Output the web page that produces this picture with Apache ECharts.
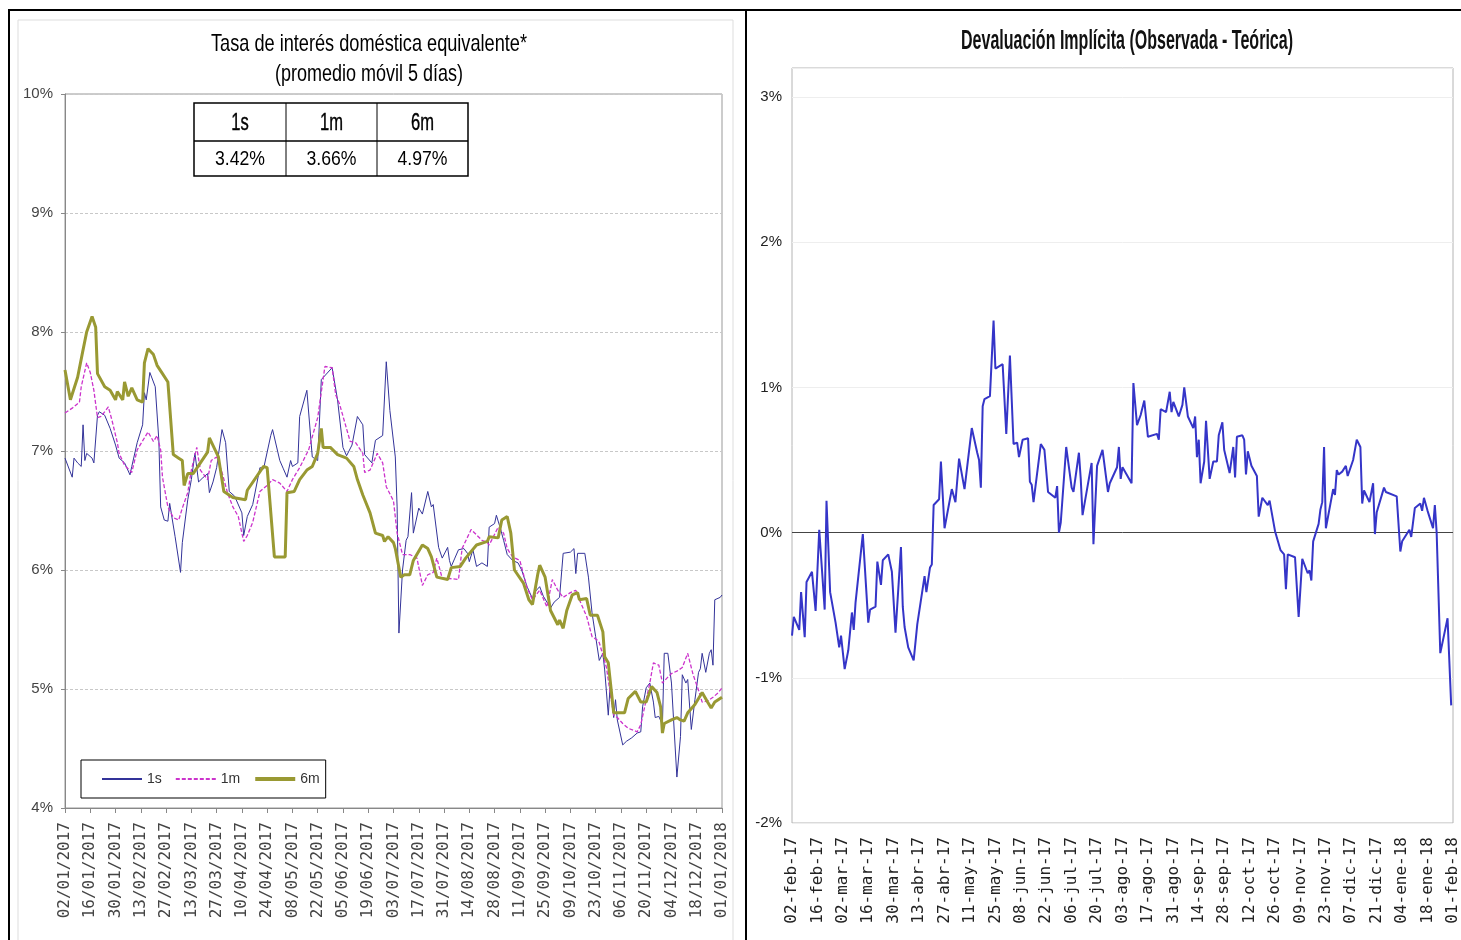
<!DOCTYPE html>
<html><head><meta charset="utf-8">
<script src="https://cdn.jsdelivr.net/npm/echarts@6/dist/echarts.min.js"></script>
<style>html,body{margin:0;padding:0;background:#fff}#c{width:1461px;height:940px}</style>
</head><body><div id="c"></div>
<script>
// ---------- Left chart: Tasa de interés doméstica equivalente ----------
// x values are days since 02/01/2017
const rateTickLabels = ['02/01/2017','16/01/2017','30/01/2017','13/02/2017','27/02/2017','13/03/2017','27/03/2017','10/04/2017','24/04/2017','08/05/2017','22/05/2017','05/06/2017','19/06/2017','03/07/2017','17/07/2017','31/07/2017','14/08/2017','28/08/2017','11/09/2017','25/09/2017','09/10/2017','23/10/2017','06/11/2017','20/11/2017','04/12/2017','18/12/2017','01/01/2018'];
const rateYLabels = ['4%','5%','6%','7%','8%','9%','10%'];

const rateDays1s = [0,4,5,7,9,10,11,12,15,16,18,19,22,25,28,30,33,36,37,40,43,44,45,47,50,52,53,55,57,58,61,64,65,68,70,72,74,76,79,80,82,84,87,89,91,94,98,99,101,104,108,110,114,115,119,121,123,125,126,129,130,134,137,140,142,148,149,151,154,156,159,162,165,166,170,172,176,178,180,183,184,185,187,189,190,192,193,196,198,201,203,204,207,209,212,213,214,216,218,221,223,224,226,227,228,231,234,235,238,239,240,241,243,245,248,251,253,256,259,260,263,265,269,271,274,276,280,282,283,284,288,290,292,294,296,298,299,301,302,304,305,306,309,311,314,317,319,320,322,324,326,327,329,331,332,334,336,339,341,342,344,345,347,349,351,352,353,355,357,358,359,360,363,364];
const rate1s = [6.94,6.78,6.94,6.90,6.87,7.22,6.92,6.98,6.94,6.90,7.30,7.33,7.30,7.19,7.05,6.94,6.90,6.80,6.87,7.07,7.22,7.49,7.43,7.66,7.54,7.09,6.53,6.42,6.41,6.56,6.28,5.98,6.23,6.59,6.76,6.98,6.74,6.77,6.81,6.65,6.74,6.86,7.18,7.07,6.66,6.62,6.48,6.29,6.45,6.55,6.86,6.85,7.13,7.18,6.92,6.85,6.78,6.92,6.87,6.90,7.29,7.51,6.95,6.92,7.60,7.70,7.70,7.43,7.03,6.96,7.05,7.29,7.22,6.97,6.90,7.09,7.13,7.75,7.34,6.95,6.53,5.47,6.00,6.25,6.28,6.65,6.31,6.52,6.47,6.66,6.53,6.55,6.19,6.10,6.19,6.08,6.03,6.10,6.17,6.18,6.14,6.07,6.17,6.18,6.03,6.06,6.03,6.36,6.39,6.46,6.47,6.36,6.25,6.13,6.08,6.06,6.00,5.86,5.76,5.81,5.86,5.78,5.68,5.73,5.77,6.14,6.15,6.18,5.97,6.14,6.14,5.94,5.64,5.44,5.24,5.30,5.16,4.78,5.02,4.76,4.91,4.74,4.53,4.56,4.59,4.63,4.64,4.85,5.01,5.05,4.89,4.76,4.77,4.70,5.30,5.30,5.05,4.26,4.60,5.12,5.05,5.08,4.66,4.91,5.14,5.17,5.30,5.14,5.30,5.33,5.20,5.75,5.77,5.79];

const rateDays1m = [0,4,8,9,12,14,16,18,20,24,26,29,30,33,37,40,46,49,51,53,54,57,60,63,65,68,70,73,75,79,81,84,87,90,93,96,99,101,104,108,112,115,119,123,126,130,135,137,140,144,148,150,152,155,158,161,165,166,169,173,176,178,182,184,187,191,195,198,201,204,206,209,212,218,220,225,231,234,235,240,243,245,248,252,256,259,263,267,270,273,276,280,283,285,289,292,295,296,300,302,304,306,309,312,317,319,321,324,326,329,331,334,336,339,342,345,348,351,353,356,359,362,364];
const rate1m = [7.32,7.36,7.41,7.54,7.74,7.66,7.51,7.28,7.29,7.37,7.26,7.07,6.98,6.88,6.82,7.01,7.16,7.08,7.13,7.01,6.78,6.53,6.44,6.42,6.52,6.65,6.84,7.03,6.84,6.76,6.92,6.95,6.82,6.65,6.53,6.45,6.24,6.29,6.40,6.66,6.71,6.76,6.73,6.66,6.76,6.86,7.01,7.12,7.28,7.71,7.70,7.47,7.40,7.24,7.08,7.07,6.98,6.82,6.84,6.98,6.90,6.70,6.58,6.31,6.13,6.13,6.10,5.87,5.96,5.98,6.10,5.93,5.93,5.92,6.18,6.34,6.25,6.23,6.21,6.36,6.31,6.18,6.11,6.08,5.85,5.75,5.83,5.69,5.92,5.83,5.77,5.81,5.83,5.75,5.61,5.44,5.41,5.39,5.18,4.97,4.78,4.76,4.71,4.67,4.64,4.70,4.84,5.05,5.22,5.20,5.05,5.10,5.13,5.15,5.18,5.30,5.12,4.99,4.89,4.90,4.93,4.97,5.01];

const rateDays6m = [0,3,7,10,12,15,17,18,22,25,28,29,32,33,35,37,40,43,44,46,49,51,54,57,60,63,65,66,68,71,75,79,80,85,88,93,100,101,110,112,116,122,123,127,130,134,137,140,142,143,147,151,156,160,162,165,169,172,176,177,179,182,183,186,188,191,193,198,201,203,206,212,214,219,222,228,234,235,240,242,245,247,249,254,257,259,262,263,266,269,273,274,276,278,281,284,285,289,291,295,298,299,301,304,310,312,316,319,322,325,328,330,331,332,336,339,341,343,345,349,353,356,358,360,364];
const rate6m = [7.68,7.43,7.62,7.85,8.00,8.13,8.04,7.65,7.54,7.51,7.43,7.50,7.43,7.58,7.46,7.53,7.43,7.41,7.74,7.86,7.81,7.72,7.65,7.58,6.97,6.94,6.92,6.71,6.81,6.81,6.90,6.99,7.11,6.95,6.66,6.61,6.59,6.67,6.87,6.86,6.11,6.11,6.65,6.66,6.76,6.84,6.87,6.98,7.19,7.03,7.03,6.97,6.94,6.87,6.76,6.63,6.48,6.31,6.29,6.24,6.28,6.23,6.18,5.94,5.96,5.96,6.08,6.21,6.18,6.11,5.94,5.92,6.02,6.03,6.10,6.21,6.24,6.28,6.27,6.42,6.45,6.31,6.00,5.89,5.75,5.71,5.97,6.04,5.94,5.66,5.54,5.58,5.51,5.66,5.79,5.81,5.75,5.76,5.62,5.62,5.48,5.27,5.22,4.80,4.80,4.92,4.98,4.89,4.89,5.02,4.97,4.85,4.63,4.71,4.74,4.76,4.74,4.73,4.80,4.87,4.97,4.89,4.84,4.89,4.93];

const tableHeaders = ['1s','1m','6m'];
const tableValues = ['3.42%','3.66%','4.97%'];

// ---------- Right chart: Devaluación Implícita ----------
// x values are days since 02-feb-17
const devalTickLabels = ['02-feb-17','16-feb-17','02-mar-17','16-mar-17','30-mar-17','13-abr-17','27-abr-17','11-may-17','25-may-17','08-jun-17','22-jun-17','06-jul-17','20-jul-17','03-ago-17','17-ago-17','31-ago-17','14-sep-17','28-sep-17','12-oct-17','26-oct-17','09-nov-17','23-nov-17','07-dic-17','21-dic-17','04-ene-18','18-ene-18','01-feb-18'];
const devalYLabels = ['-2%','-1%','0%','1%','2%','3%'];
const devalDays = [0,1,4,5,7,8,11,13,15,18,19,21,22,24,26,27,29,31,33,34,35,36,39,40,42,43,46,47,49,50,53,55,56,57,60,61,62,63,64,67,69,73,74,76,77,78,81,82,84,88,90,92,95,99,102,103,104,105,106,109,111,112,116,118,120,122,124,125,127,130,131,132,133,137,139,141,145,146,147,148,151,154,155,158,159,160,165,166,168,171,174,175,179,180,181,182,187,188,190,192,194,196,201,202,203,206,208,209,210,213,215,216,218,221,222,223,224,225,227,228,230,232,234,235,237,238,241,243,244,245,248,249,250,251,253,256,257,259,262,263,266,269,271,272,273,277,279,281,284,285,286,287,290,291,292,293,294,298,299,300,301,303,305,306,309,311,313,314,315,318,320,321,322,326,327,333,335,336,340,341,343,346,347,348,350,353,354,355,357,361,363];
const deval = [-0.71,-0.58,-0.67,-0.41,-0.72,-0.34,-0.27,-0.54,0.02,-0.53,0.22,-0.41,-0.41,-0.62,-0.79,-0.71,-0.94,-0.81,-0.55,-0.67,-0.48,-0.47,-0.01,-0.01,-0.62,-0.53,-0.51,-0.20,-0.36,-0.19,-0.15,-0.27,-0.27,-0.69,-0.10,-0.51,-0.65,-0.64,-0.79,-0.88,-0.63,-0.30,-0.41,-0.24,-0.22,0.19,0.23,0.49,0.03,0.30,0.21,0.51,0.30,0.72,0.55,0.50,0.31,0.87,0.92,0.94,1.46,1.13,1.16,0.68,1.22,0.61,0.62,0.52,0.64,0.65,0.35,0.33,0.21,0.61,0.57,0.28,0.24,0.32,0.00,0.07,0.59,0.31,0.28,0.55,0.37,0.12,0.48,-0.08,0.46,0.57,0.28,0.34,0.45,0.59,0.37,0.45,0.34,1.03,0.74,0.81,0.91,0.66,0.68,0.64,0.85,0.83,0.97,0.83,0.90,0.80,0.88,1.00,0.80,0.72,0.80,0.52,0.64,0.34,0.49,0.77,0.37,0.49,0.49,0.67,0.76,0.57,0.41,0.59,0.38,0.66,0.67,0.64,0.40,0.56,0.46,0.39,0.11,0.24,0.19,0.22,0.01,-0.12,-0.15,-0.39,-0.15,-0.17,-0.58,-0.18,-0.28,-0.26,-0.33,-0.06,0.06,0.16,0.21,0.59,0.03,0.30,0.26,0.43,0.40,0.42,0.46,0.39,0.50,0.64,0.59,0.20,0.29,0.21,0.34,-0.01,0.14,0.31,0.28,0.25,-0.13,-0.06,0.02,-0.03,0.17,0.20,0.15,0.24,0.15,0.03,0.19,0.00,-0.83,-0.59,-1.19];

// ---------- build ----------
const SANS = "'Liberation Sans','Arial',sans-serif";
const MONO = "'DejaVu Sans Mono',monospace";
const pair = (d, v) => d.map((x, i) => [x, v[i]]);

// condensed text: scale a text horizontally so it takes the wanted width
const mctx = document.createElement('canvas').getContext('2d');
function fitScale(text, font, target) { mctx.font = font; return target / mctx.measureText(text).width; }
function condensedText(text, x, y, font, width, fill, z) {
  return {type: 'text', z: z || 50, x: x, y: y, scaleX: fitScale(text, font, width), scaleY: 1,
    style: {text: text, align: 'center', verticalAlign: 'middle', font: font, fill: fill || '#000'}};
}

const chart = echarts.init(document.getElementById('c'), null, {renderer: 'canvas'});

// table layout
const tX = [194, 286, 377, 468], tY = [103, 141, 176];
const headFont = '24px ' + SANS, valFont = '21px ' + SANS;
const headScale = fitScale('6m', headFont, 23), valScale = fitScale('3.42%', valFont, 50);
const tableGraphics = [
  {type: 'rect', z: 100, shape: {x: tX[0], y: tY[0], width: tX[3] - tX[0], height: tY[2] - tY[0]}, style: {fill: '#fff', stroke: '#000', lineWidth: 1.5}},
  {type: 'line', z: 101, shape: {x1: tX[0], y1: tY[1], x2: tX[3], y2: tY[1]}, style: {stroke: '#000', lineWidth: 1.5}},
  {type: 'line', z: 101, shape: {x1: tX[1], y1: tY[0], x2: tX[1], y2: tY[2]}, style: {stroke: '#000', lineWidth: 1}},
  {type: 'line', z: 101, shape: {x1: tX[2], y1: tY[0], x2: tX[2], y2: tY[2]}, style: {stroke: '#000', lineWidth: 1}}
];
tableHeaders.forEach((h, i) => {
  tableGraphics.push({type: 'text', z: 102, x: (tX[i] + tX[i + 1]) / 2, y: (tY[0] + tY[1]) / 2 + 1, scaleX: headScale,
    style: {text: h, align: 'center', verticalAlign: 'middle', font: headFont, fill: '#000', stroke: '#000', lineWidth: 0.4}});
  tableGraphics.push({type: 'text', z: 102, x: (tX[i] + tX[i + 1]) / 2, y: (tY[1] + tY[2]) / 2 + 1, scaleX: valScale,
    style: {text: tableValues[i], align: 'center', verticalAlign: 'middle', font: valFont, fill: '#000'}});
});

const option = {
  animation: false,
  backgroundColor: '#fff',
  graphic: [
    {type: 'rect', z: 0, shape: {x: 18, y: 20, width: 715, height: 940}, style: {fill: null, stroke: '#dddddd', lineWidth: 1}},
    {type: 'line', z: 200, shape: {x1: 8, y1: 10, x2: 1461, y2: 10}, style: {stroke: '#000', lineWidth: 2}},
    {type: 'line', z: 200, shape: {x1: 9, y1: 10, x2: 9, y2: 940}, style: {stroke: '#000', lineWidth: 2}},
    {type: 'line', z: 200, shape: {x1: 746, y1: 10, x2: 746, y2: 940}, style: {stroke: '#000', lineWidth: 2}},
    condensedText('Tasa de interés doméstica equivalente*', 369, 44, '24px ' + SANS, 316),
    condensedText('(promedio móvil 5 días)', 369, 74, '24px ' + SANS, 188),
    condensedText('Devaluación Implícita (Observada - Teórica)', 1127, 41, 'bold 28px ' + SANS, 332, '#111')
  ].concat(tableGraphics),
  legend: {
    data: [{name: '1s'}, {name: '1m'}, {name: '6m', lineStyle: {width: 4}}],
    left: 81, top: 760, orient: 'horizontal',
    padding: [12, 6, 12, 20], itemGap: 13, itemWidth: 40, itemHeight: 14,
    borderColor: '#000', borderWidth: 1, backgroundColor: '#fff',
    itemStyle: {opacity: 0, color: 'rgba(0,0,0,0)', borderWidth: 0},
    textStyle: {fontFamily: SANS, fontSize: 14, color: '#333'}
  },
  grid: [
    {left: 65, top: 94, width: 657, height: 714, show: true, borderColor: '#999', borderWidth: 1, backgroundColor: 'transparent'},
    {left: 792, top: 68, width: 664, height: 755, show: true, borderColor: '#b4b4b4', borderWidth: 1, backgroundColor: 'transparent'}
  ],
  xAxis: [
    {gridIndex: 0, type: 'value', min: 0, max: 364, interval: 14,
      axisLine: {show: true, onZero: false, lineStyle: {color: '#888'}},
      axisTick: {show: true, length: 5, lineStyle: {color: '#888'}},
      splitLine: {show: false},
      axisLabel: {rotate: 90, margin: 14, formatter: v => rateTickLabels[Math.round(v / 14)], fontFamily: MONO, fontSize: 16, color: '#444'}},
    {gridIndex: 1, type: 'value', min: 0, max: 364, interval: 14,
      axisLine: {show: false}, axisTick: {show: false}, splitLine: {show: false},
      axisLabel: {rotate: 90, margin: 14, formatter: v => devalTickLabels[Math.round(v / 14)], fontFamily: MONO, fontSize: 16, color: '#222'}}
  ],
  yAxis: [
    {gridIndex: 0, type: 'value', min: 4, max: 10, interval: 1,
      axisLine: {show: true, lineStyle: {color: '#888'}},
      axisTick: {show: true, length: 4, lineStyle: {color: '#888'}},
      splitLine: {show: true, lineStyle: {color: '#c8c8c8', type: [3, 2]}},
      axisLabel: {margin: 12, formatter: v => rateYLabels[Math.round(v - 4)], fontFamily: SANS, fontSize: 15, color: '#444'}},
    {gridIndex: 1, type: 'value', min: -2, max: 3.2, interval: 1,
      axisLine: {show: false}, axisTick: {show: false},
      splitLine: {show: true, lineStyle: {color: '#eeeeee'}},
      axisLabel: {margin: 10, showMaxLabel: false, formatter: v => devalYLabels[Math.round(v + 2)] || '', fontFamily: SANS, fontSize: 15, color: '#222'}}
  ],
  series: [
    {name: '1s', type: 'line', xAxisIndex: 0, yAxisIndex: 0, data: pair(rateDays1s, rate1s), symbol: 'none', showSymbol: false,
      lineStyle: {color: '#333399', width: 1}, itemStyle: {color: '#333399'}, z: 3},
    {name: '1m', type: 'line', xAxisIndex: 0, yAxisIndex: 0, data: pair(rateDays1m, rate1m), symbol: 'none', showSymbol: false,
      lineStyle: {color: '#cc33cc', width: 1.3, type: [4, 2]}, itemStyle: {color: '#cc33cc'}, z: 4},
    {name: '6m', type: 'line', xAxisIndex: 0, yAxisIndex: 0, data: pair(rateDays6m, rate6m), symbol: 'none', showSymbol: false,
      lineStyle: {color: '#999933', width: 3}, itemStyle: {color: '#999933'}, z: 5},
    {name: 'Devaluación', type: 'line', xAxisIndex: 1, yAxisIndex: 1, data: pair(devalDays, deval), symbol: 'none', showSymbol: false,
      lineStyle: {color: '#3535c8', width: 2}, itemStyle: {color: '#3535c8'}, z: 5,
      markLine: {symbol: 'none', silent: true, label: {show: false}, lineStyle: {color: '#444', width: 1, type: 'solid'}, data: [{yAxis: 0}]}}
  ]
};
chart.setOption(option);
</script>
</body></html>
